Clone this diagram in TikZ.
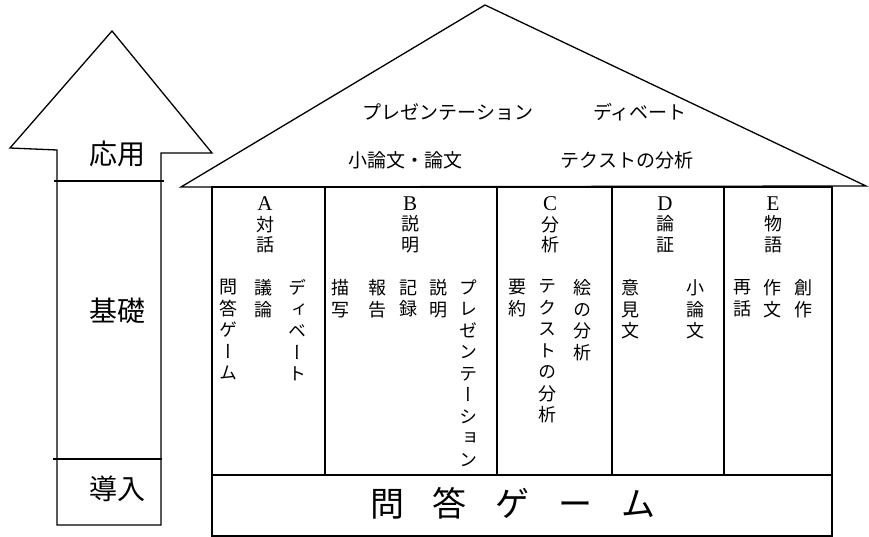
\documentclass[tikz,border=0pt]{standalone}
\usepackage{fontspec}
\newfontfamily\jp{Noto Sans CJK JP}
\newfontfamily\jpv[RawFeature=+vert]{Noto Sans CJK JP}
\newfontfamily\lat{Liberation Serif}
\newcommand{\colletter}[1]{{\lat\fontsize{21}{20.5}\selectfont #1}}
\begin{document}
\begin{tikzpicture}[x=1pt,y=-1pt,line width=1.3pt,
  lbl/.style={font=\jp\fontsize{28}{30}\selectfont,inner sep=0pt},
  roof/.style={font=\jp\fontsize{19}{22}\selectfont,inner sep=0pt},
  vt/.style={font=\jpv\fontsize{18}{21.5}\selectfont,align=center,inner sep=0pt,anchor=north},
  hd/.style={font=\jpv\fontsize{18}{20.5}\selectfont,align=center,inner sep=0pt,anchor=north},
  big/.style={font=\jp\fontsize{34}{36}\selectfont,inner sep=0pt}]
\useasboundingbox (0,0) rectangle (869,537);
% left arrow
\draw (112,31) -- (212,153) -- (161,153) -- (161,525) -- (57,525) -- (57,150) -- (10,148) -- cycle;
\coordinate (l1a) at (54,181); \coordinate (l1b) at (164,181);
\coordinate (l2a) at (53,459); \coordinate (l2b) at (162,459);
\draw (l1a) -- (l1b);
\draw (l2a) -- (l2b);
\node[lbl] (oyo) at (117,154) {応用};
\node[lbl] (kiso) at (117,311) {基礎};
\node[lbl] (donyu) at (117,489) {導入};
% roof
\draw (181,187) -- (485,5) -- (866,186) -- cycle;
\node[roof] (r1) at (448,112) {プレゼンテーション};
\node[roof] (r2) at (640,112) {ディベート};
\node[roof] (r3) at (405,160) {小論文・論文};
\node[roof] (r4) at (627,160) {テクストの分析};
% house body
\draw (212,187) rectangle (832,536);
\foreach \x in {325,497,612,724} \draw (\x,187) -- (\x,475);
\draw (212,475) -- (832,475);
% column A
\node[hd] (hA) at (265,196) {\colletter{A}\\対\\話};
\node[vt] (a1) at (228,279) {問\\答\\ゲ\\ー\\ム};
\node[vt] (a2) at (263,279) {議\\論};
\node[vt] (a3) at (297,279) {デ\\ィ\\ベ\\ー\\ト};
% column B
\node[hd] (hB) at (410,196) {\colletter{B}\\説\\明};
\node[vt] (b1) at (340,279) {描\\写};
\node[vt] (b2) at (377,279) {報\\告};
\node[vt] (b3) at (408,279) {記\\録};
\node[vt] (b4) at (438,279) {説\\明};
\node[vt] (b5) at (468,279) {プ\\レ\\ゼ\\ン\\テ\\ー\\シ\\ョ\\ン};
% column C
\node[hd] (hC) at (550,196) {\colletter{C}\\分\\析};
\node[vt] (c1) at (517,279) {要\\約};
\node[vt] (c2) at (547,279) {テ\\ク\\ス\\ト\\の\\分\\析};
\node[vt] (c3) at (582,279) {絵\\の\\分\\析};
% column D
\node[hd] (hD) at (665,196) {\colletter{D}\\論\\証};
\node[vt] (d1) at (630,279) {意\\見\\文};
\node[vt] (d2) at (695,279) {小\\論\\文};
% column E
\node[hd] (hE) at (773,196) {\colletter{E}\\物\\語};
\node[vt] (e1) at (742,279) {再\\話};
\node[vt] (e2) at (772,279) {作\\文};
\node[vt] (e3) at (803,279) {創\\作};
% bottom
\node[big] (mondo) at (513,503) {\makebox[63pt]{問}\makebox[63pt]{答}\makebox[63pt]{ゲ}\makebox[63pt]{ー}\makebox[63pt]{ム}};
\end{tikzpicture}
\end{document}
